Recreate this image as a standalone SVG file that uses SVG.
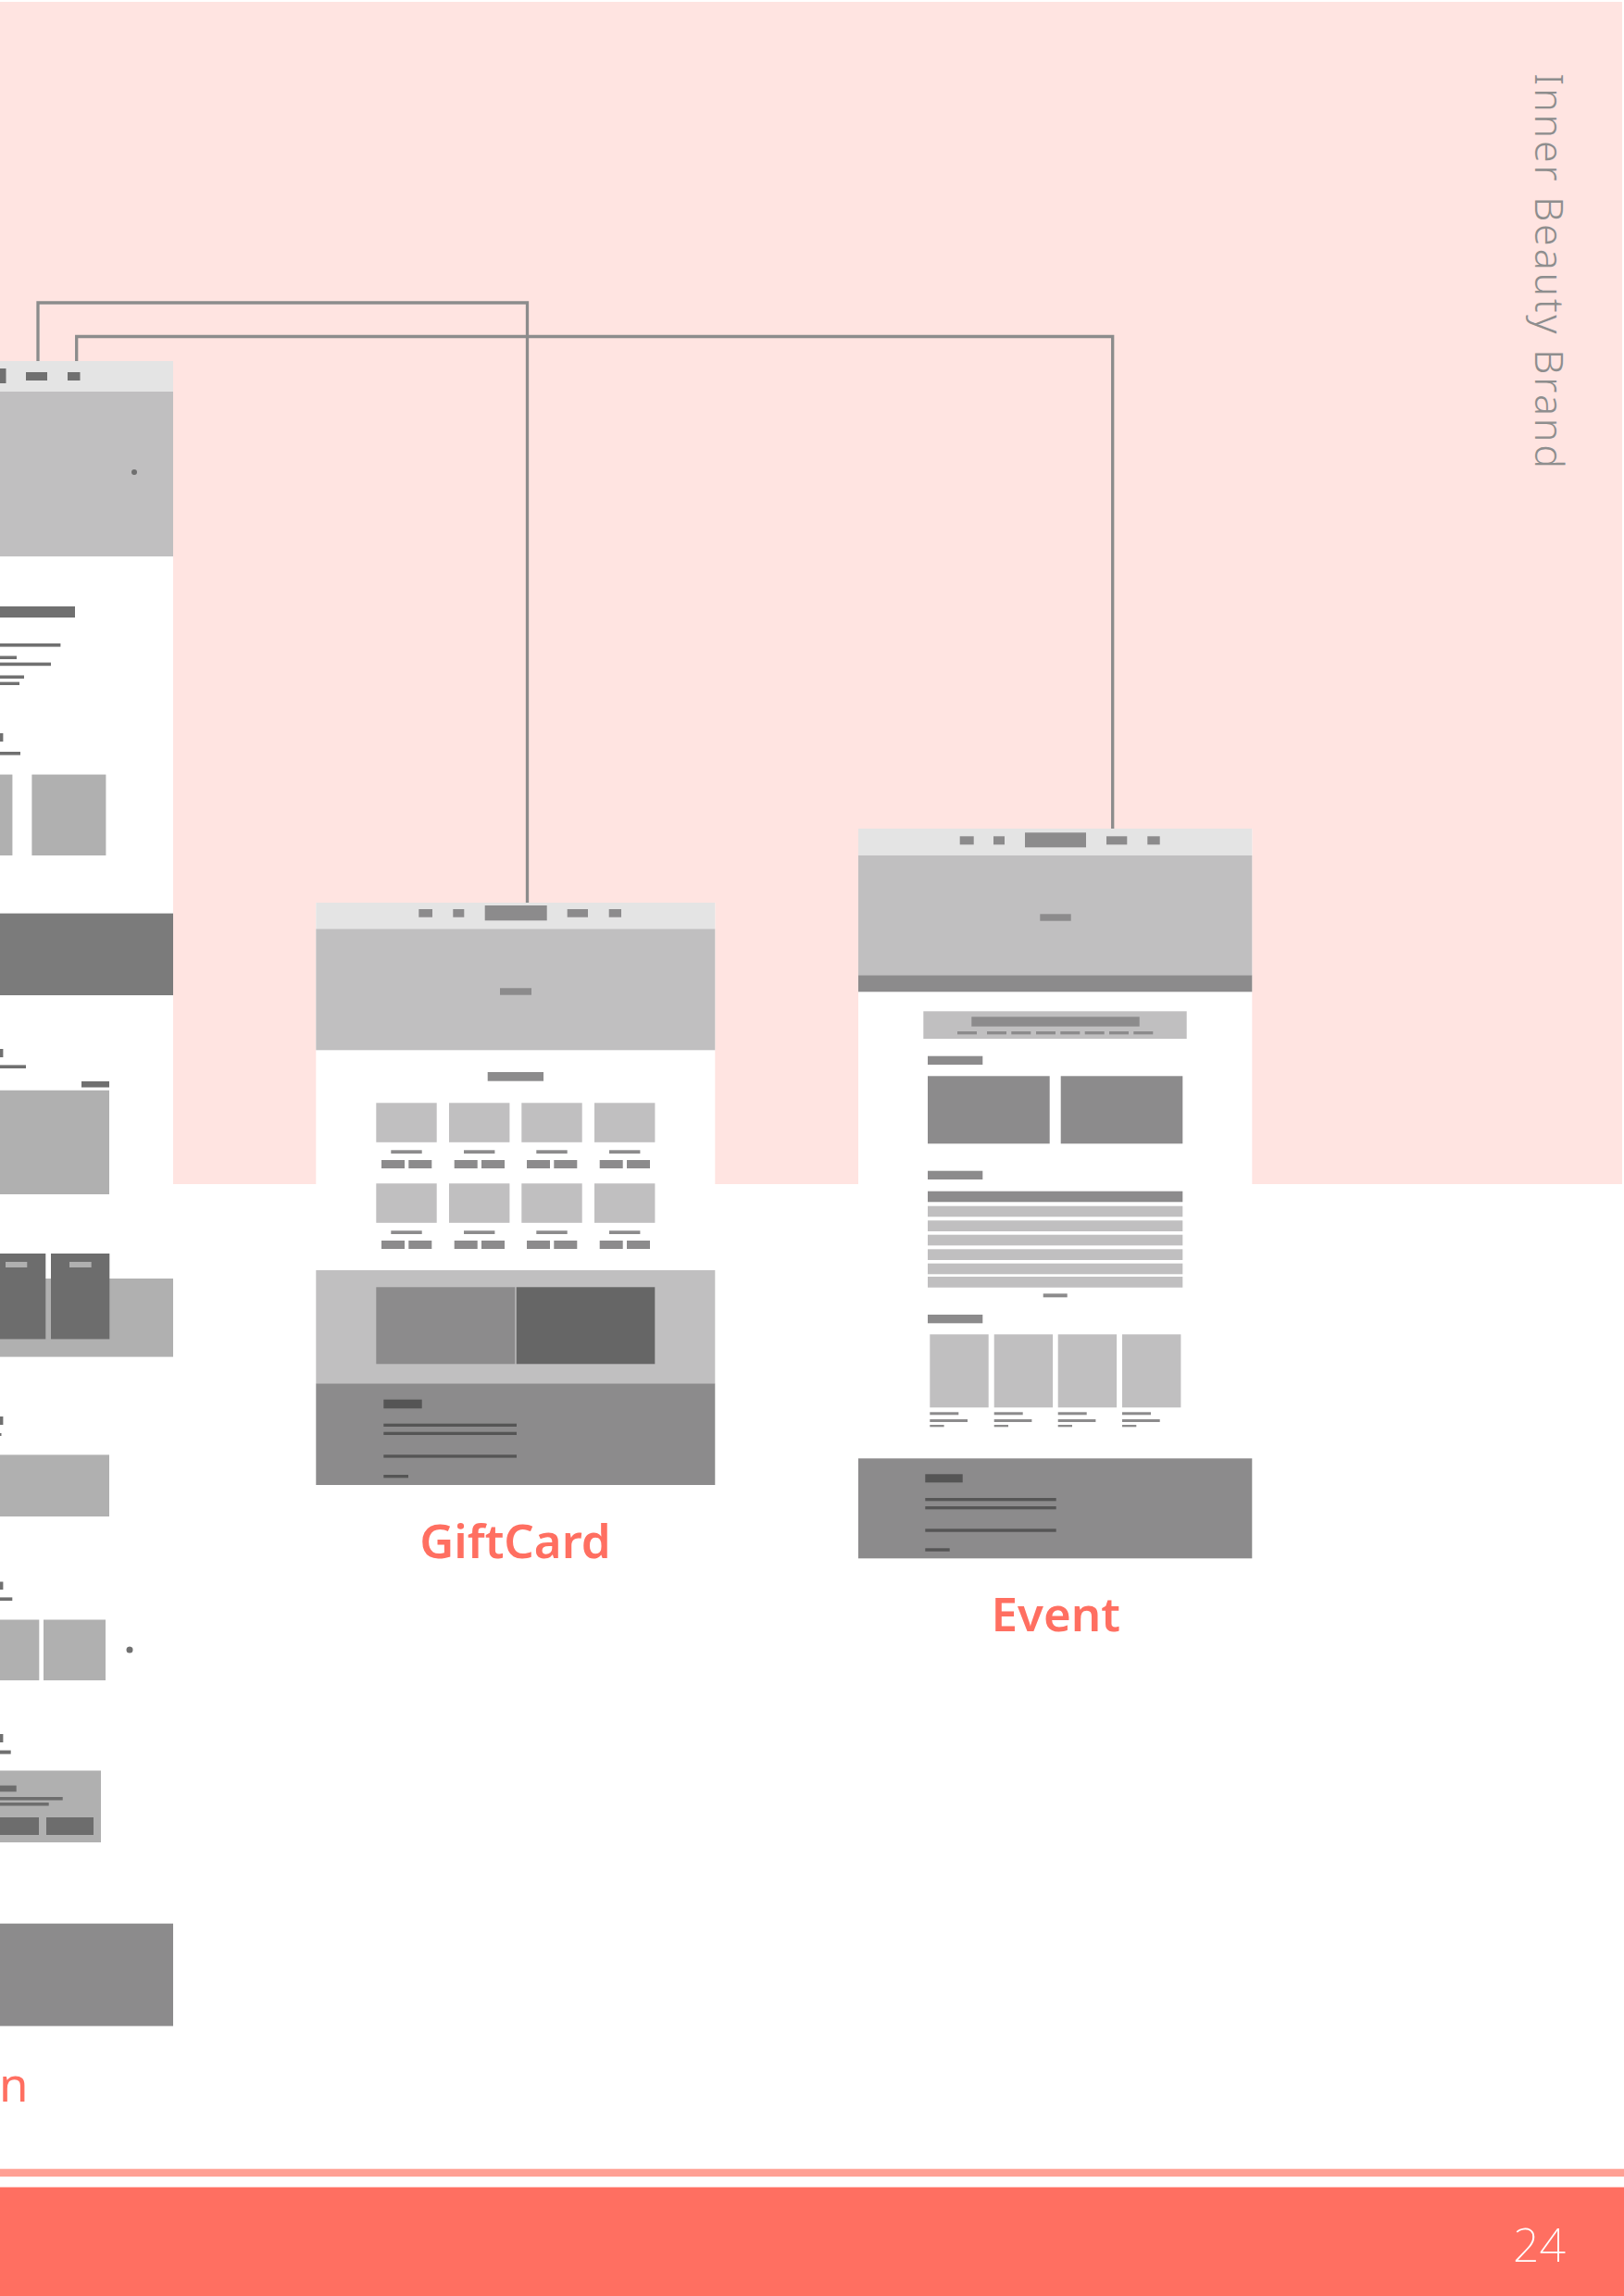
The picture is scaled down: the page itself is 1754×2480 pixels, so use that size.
<svg xmlns="http://www.w3.org/2000/svg" width="1754" height="2480" viewBox="0 0 1754 2480">
<style>
.nav{fill:#e4e4e4}.hero{fill:#c0bfc0}.d{fill:#8c8b8c}.k{fill:#707070}.g{fill:#b0b0b0}.dk{fill:#6d6d6d}.f{fill:#555555}.w{fill:#ffffff}
.lbl{font-family:"Noto Sans","Liberation Sans",sans-serif;font-weight:600;font-size:51px;fill:#ff6f61;text-anchor:middle}
.conn{fill:none;stroke:#8c8c8c;stroke-width:3.3}
</style>
<defs>
<g id="tile">
<rect x="0" y="0" width="65.4" height="42.5" class="hero"/>
<rect x="16" y="51" width="33.4" height="3.7" class="d"/>
<rect x="5.7" y="61.7" width="25" height="9" class="d"/>
<rect x="35" y="61.7" width="25" height="9" class="d"/>
</g>
<g id="ecard">
<rect x="0" y="0" width="63.4" height="79" class="hero"/>
<rect x="0" y="84" width="31" height="3" class="d"/>
<rect x="0" y="91.7" width="40.7" height="3" class="d"/>
<rect x="0" y="97.7" width="15.3" height="2.3" class="d"/>
</g>
</defs>
<rect x="0" y="0" width="1754" height="2480" fill="#ffffff"/>
<rect x="0" y="2" width="1752" height="1277" fill="#ffe4e1"/>

<g id="brand-title">
<text transform="translate(1658,79) rotate(90)" font-family="'Noto Sans','Liberation Sans',sans-serif" font-weight="300" font-size="43" fill="#8e8e8e" textLength="427" lengthAdjust="spacing">Inner Beauty Brand</text>
</g>

<g id="connectors">
<path class="conn" d="M41,390 V327 H569.5 V975"/>
<path class="conn" d="M82.7,390 V363.5 H1201.7 V895"/>
</g>

<g id="page-main">
<rect x="0" y="390" width="187" height="1798.4" class="w"/>
<rect x="0" y="390" width="187" height="33" class="nav"/>
<rect x="0" y="398" width="6.5" height="16" class="k"/>
<rect x="28" y="402" width="23" height="9" class="k"/>
<rect x="73" y="402" width="13.5" height="9" class="k"/>
<rect x="0" y="423" width="187" height="178" class="hero"/>
<circle cx="145" cy="510" r="3" class="k"/>
<rect x="0" y="655" width="81" height="12" class="k"/>
<rect x="0" y="695" width="65.4" height="3.6" class="k"/>
<rect x="0" y="708.5" width="18" height="3.5" class="k"/>
<rect x="0" y="715.6" width="55" height="3.6" class="k"/>
<rect x="0" y="729.5" width="26" height="3.5" class="k"/>
<rect x="0" y="736.6" width="21" height="3.4" class="k"/>
<rect x="0" y="792" width="3.4" height="9" class="k"/>
<rect x="0" y="812" width="22" height="3.6" class="k"/>
<rect x="0" y="836.6" width="13.4" height="87.4" class="g"/>
<rect x="34.4" y="836.6" width="80" height="87.4" class="g"/>
<rect x="0" y="986.6" width="187" height="88.4" fill="#7b7b7b"/>
<rect x="0" y="1133" width="3.4" height="9" class="k"/>
<rect x="0" y="1150.4" width="28" height="3.6" class="k"/>
<rect x="88" y="1168" width="30" height="6.5" class="k"/>
<rect x="0" y="1177.7" width="118" height="112.3" class="g"/>
<rect x="0" y="1381" width="187" height="84.6" class="g"/>
<rect x="0" y="1354" width="49.3" height="92.4" class="dk"/>
<rect x="55" y="1354" width="63.3" height="92.4" class="dk"/>
<rect x="6" y="1363" width="23.3" height="6" class="g"/>
<rect x="75" y="1363" width="23.7" height="6" class="g"/>
<rect x="0" y="1530" width="3.4" height="9" class="k"/>
<rect x="0" y="1548" width="1.5" height="3" class="k"/>
<rect x="0" y="1571.4" width="118" height="66.6" class="g"/>
<rect x="0" y="1708.5" width="3.4" height="8.5" class="k"/>
<rect x="0" y="1725.4" width="13.3" height="3.6" class="k"/>
<rect x="0" y="1749.5" width="42.3" height="65.5" class="g"/>
<rect x="47" y="1749.5" width="67" height="65.5" class="g"/>
<circle cx="140" cy="1782" r="3.5" class="k"/>
<rect x="0" y="1873" width="3.4" height="9" class="k"/>
<rect x="0" y="1890.6" width="11.7" height="4" class="k"/>
<rect x="0" y="1912.5" width="109" height="77.5" class="g"/>
<rect x="0" y="1928.6" width="17.7" height="6.7" class="dk"/>
<rect x="0" y="1941" width="67.7" height="3.5" class="dk"/>
<rect x="0" y="1947" width="52.7" height="3.5" class="dk"/>
<rect x="0" y="1963" width="42" height="19" class="dk"/>
<rect x="50" y="1963" width="51" height="19" class="dk"/>
<rect x="0" y="2077.7" width="187" height="110.7" class="d"/>
<text x="-1" y="2269.6" font-family="'Noto Sans','Liberation Sans',sans-serif" font-size="51" fill="#ff6f61">n</text>
</g>

<g id="page-giftcard">
<rect x="341.3" y="975" width="431" height="629" class="w"/>
<rect x="341.3" y="975" width="431" height="28.3" class="nav"/>
<rect x="452.3" y="982" width="14.7" height="8.7" class="d"/>
<rect x="489.3" y="982" width="12" height="8.7" class="d"/>
<rect x="523.7" y="978" width="67" height="16.3" class="d"/>
<rect x="612.7" y="982" width="22.3" height="8.7" class="d"/>
<rect x="657.7" y="982" width="13.3" height="8.7" class="d"/>
<rect x="341.3" y="1003.3" width="431" height="131" class="hero"/>
<rect x="540" y="1067.3" width="34" height="7.4" class="d"/>
<rect x="526.7" y="1158" width="60.3" height="9.7" class="d"/>
<use href="#tile" x="406.3" y="1191.3"/>
<use href="#tile" x="485" y="1191.3"/>
<use href="#tile" x="563.3" y="1191.3"/>
<use href="#tile" x="642" y="1191.3"/>
<use href="#tile" x="406.3" y="1278.3"/>
<use href="#tile" x="485" y="1278.3"/>
<use href="#tile" x="563.3" y="1278.3"/>
<use href="#tile" x="642" y="1278.3"/>
<rect x="341.3" y="1372" width="431" height="122.3" class="hero"/>
<rect x="406.3" y="1390.3" width="150" height="83" class="d"/>
<rect x="557.7" y="1390.3" width="149.6" height="83" fill="#666666"/>
<rect x="341.3" y="1494.3" width="431" height="109.7" class="d"/>
<rect x="414.3" y="1511.7" width="41.4" height="9.6" class="f"/>
<rect x="414.3" y="1537.7" width="143.7" height="3.3" class="f"/>
<rect x="414.3" y="1546.7" width="143.7" height="3.3" class="f"/>
<rect x="414.3" y="1571.3" width="143.7" height="3.3" class="f"/>
<rect x="414.3" y="1593" width="26.7" height="3.3" class="f"/>
<text class="lbl" x="556.5" y="1683.3">GiftCard</text>
</g>

<g id="page-event">
<rect x="927" y="895" width="425.3" height="788.3" class="w"/>
<rect x="927" y="895" width="425.3" height="29" class="nav"/>
<rect x="1036.7" y="903.3" width="15" height="9" class="d"/>
<rect x="1073" y="903.3" width="12" height="9" class="d"/>
<rect x="1107" y="899.3" width="66" height="16" class="d"/>
<rect x="1195" y="903.3" width="22.3" height="9" class="d"/>
<rect x="1239.3" y="903.3" width="13.4" height="9" class="d"/>
<rect x="927" y="924" width="425.3" height="129.3" class="hero"/>
<rect x="1123.3" y="987.3" width="33.4" height="7.4" class="d"/>
<rect x="927" y="1053.3" width="425.3" height="18" class="d"/>
<rect x="997.3" y="1092.3" width="284.4" height="29.7" class="hero"/>
<rect x="1049.3" y="1098.3" width="181.4" height="10.4" class="d"/>
<rect x="1034" y="1114" width="21" height="3.3" class="d"/>
<rect x="1066" y="1114" width="21" height="3.3" class="d"/>
<rect x="1092.3" y="1114" width="21" height="3.3" class="d"/>
<rect x="1119" y="1114" width="21" height="3.3" class="d"/>
<rect x="1145.3" y="1114" width="21" height="3.3" class="d"/>
<rect x="1171.7" y="1114" width="21" height="3.3" class="d"/>
<rect x="1198" y="1114" width="21" height="3.3" class="d"/>
<rect x="1224.3" y="1114" width="21" height="3.3" class="d"/>
<rect x="1002" y="1140.7" width="59.3" height="9.3" class="d"/>
<rect x="1002" y="1162.3" width="131.7" height="73" class="d"/>
<rect x="1145.7" y="1162.3" width="131.6" height="73" class="d"/>
<rect x="1002" y="1264.7" width="59.3" height="9.3" class="d"/>
<rect x="1002" y="1286.7" width="275.3" height="11.6" class="d"/>
<rect x="1002" y="1302.7" width="275.3" height="11.6" class="hero"/>
<rect x="1002" y="1318.3" width="275.3" height="11.7" class="hero"/>
<rect x="1002" y="1333.7" width="275.3" height="11.6" class="hero"/>
<rect x="1002" y="1349.3" width="275.3" height="11.7" class="hero"/>
<rect x="1002" y="1364.7" width="275.3" height="11.6" class="hero"/>
<rect x="1002" y="1379" width="275.3" height="11.7" class="hero"/>
<rect x="1126.7" y="1397.3" width="26" height="4" class="d"/>
<rect x="1002" y="1420" width="59.3" height="9.3" class="d"/>
<use href="#ecard" x="1004.3" y="1441.3"/>
<use href="#ecard" x="1073.7" y="1441.3"/>
<use href="#ecard" x="1142.7" y="1441.3"/>
<use href="#ecard" x="1212" y="1441.3"/>
<rect x="927" y="1575.3" width="425.3" height="108" class="d"/>
<rect x="999.3" y="1592.3" width="40.4" height="9" class="f"/>
<rect x="999.3" y="1618" width="141.4" height="3.3" class="f"/>
<rect x="999.3" y="1627" width="141.4" height="3.3" class="f"/>
<rect x="999.3" y="1651.3" width="141.4" height="3.4" class="f"/>
<rect x="999.3" y="1672.3" width="26.4" height="3.4" class="f"/>
<text class="lbl" x="1140.3" y="1762">Event</text>
</g>

<g id="footer">
<rect x="0" y="2342.7" width="1754" height="8.3" fill="#ffa094"/>
<rect x="0" y="2362.5" width="1754" height="117.5" fill="#ff6f61"/>
<text x="1691" y="2442.7" text-anchor="end" font-family="'Noto Sans','Liberation Sans',sans-serif" font-weight="200" font-size="50" fill="#ffffff">24</text>
</g>
</svg>
